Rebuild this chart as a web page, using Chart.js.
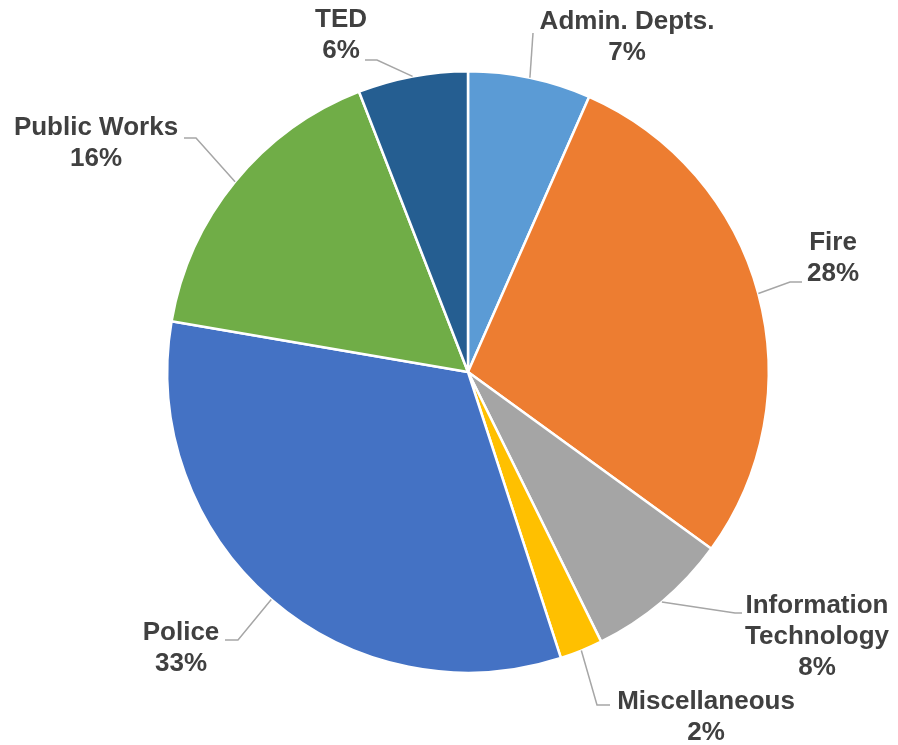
<!DOCTYPE html>
<html>
<head>
<meta charset="utf-8">
<script src="https://cdn.jsdelivr.net/npm/chart.js@4/dist/chart.umd.min.js"></script>
<style>
  html, body { margin: 0; padding: 0; background: #fff; }
  #wrap { width: 898px; height: 745px; }
</style>
</head>
<body>
<div id="wrap"><canvas id="budgetPie" width="898" height="745"></canvas></div>
<script>
// ====================== Data ======================
const departments = ['Admin. Depts.', 'Fire', ['Information', 'Technology'], 'Miscellaneous', 'Police', 'Public Works', 'TED'];
const shares = [6.6, 28.4, 7.7, 2.3, 32.7, 16.4, 5.9];
const sliceColors = ['#5B9BD5', '#ED7D31', '#A5A5A5', '#FFC000', '#4472C4', '#70AD47', '#255E91'];

// label spots relative to the pie centre: text centre, leader end, optional elbow
const labelSpots = [
  { tx: 159, ty: -350, end: [65, -339] },
  { tx: 365, ty: -129, end: [334, -90], elbow: [322, -90] },
  { tx: 349, ty: 234, end: [274, 241], elbow: [267, 241] },
  { tx: 238, ty: 330, end: [142, 333], elbow: [129, 333] },
  { tx: -287, ty: 261, end: [-243, 268], elbow: [-230, 268] },
  { tx: -372, ty: -244, end: [-284, -234], elbow: [-272, -234] },
  { tx: -127, ty: -352, end: [-103, -312], elbow: [-91, -312] }
];

// ====================== Labels + leaders ======================
const outsideLabels = {
  id: 'outsideLabels',
  afterDraw(chart) {
    const ctx = chart.ctx;
    const meta = chart.getDatasetMeta(0);
    const total = shares.reduce((a, b) => a + b, 0);
    ctx.save();
    meta.data.forEach((arc, i) => {
      const spot = labelSpots[i];
      const cx = arc.x, cy = arc.y;
      const mid = (arc.startAngle + arc.endAngle) / 2;
      const r = arc.outerRadius;

      // leader line from the slice edge
      ctx.strokeStyle = '#A6A6A6';
      ctx.lineWidth = 1.5;
      ctx.beginPath();
      ctx.moveTo(cx + Math.cos(mid) * r, cy + Math.sin(mid) * r);
      if (spot.elbow) ctx.lineTo(cx + spot.elbow[0], cy + spot.elbow[1]);
      ctx.lineTo(cx + spot.end[0], cy + spot.end[1]);
      ctx.stroke();

      // name + percent
      const name = departments[i];
      const lines = (Array.isArray(name) ? name.slice() : [name]);
      lines.push(Math.round(shares[i] / total * 100) + '%');
      ctx.fillStyle = '#404040';
      ctx.font = 'bold 26px "Liberation Sans", Arial, sans-serif';
      ctx.textAlign = 'center';
      ctx.textBaseline = 'middle';
      lines.forEach((t, k) => {
        ctx.fillText(t, cx + spot.tx, cy + spot.ty + k * 31);
      });
    });
    ctx.restore();
  }
};

// ====================== Chart ======================
new Chart(document.getElementById('budgetPie'), {
  type: 'pie',
  data: {
    labels: departments,
    datasets: [{
      data: shares,
      backgroundColor: sliceColors,
      borderColor: '#FFFFFF',
      borderWidth: 2.5
    }]
  },
  options: {
    responsive: false,
    animation: false,
    layout: { padding: { left: 166, right: 128, top: 70, bottom: 71 } },
    plugins: {
      legend: { display: false },
      tooltip: { enabled: false }
    }
  },
  plugins: [outsideLabels]
});
</script>
</body>
</html>
